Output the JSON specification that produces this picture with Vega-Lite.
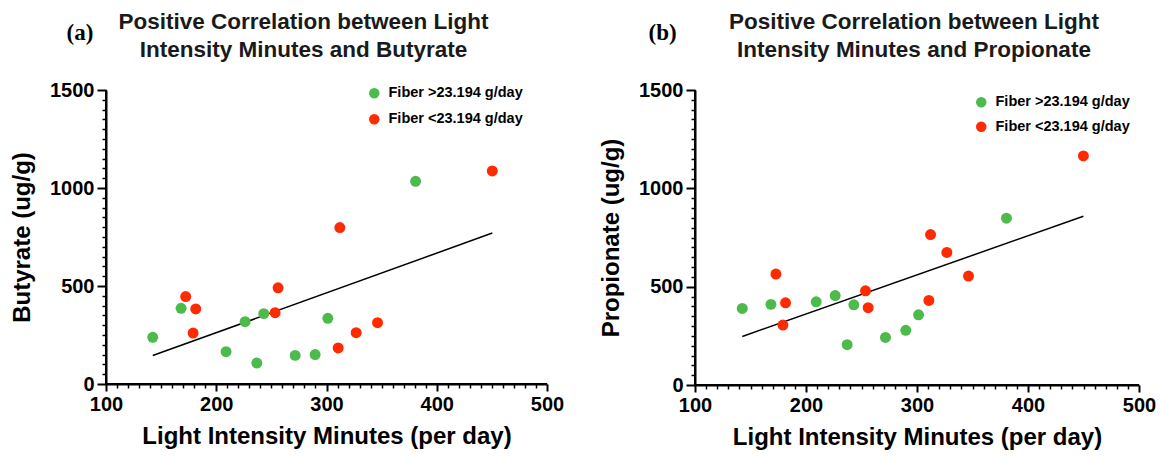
{
  "$schema": "https://vega.github.io/schema/vega-lite/v6.json",
  "padding": {"left": 10, "top": 10, "right": 5, "bottom": 5},
  "background": "white",
  "config": {
    "view": {"stroke": null, "fill": null}
  },
  "datasets": {
    "butyrate": [
      {"minutes": 142.4, "value": 238, "fiber": "Fiber >23.194 g/day"},
      {"minutes": 168.1, "value": 386, "fiber": "Fiber >23.194 g/day"},
      {"minutes": 208.9, "value": 165, "fiber": "Fiber >23.194 g/day"},
      {"minutes": 226.2, "value": 318, "fiber": "Fiber >23.194 g/day"},
      {"minutes": 236.8, "value": 107, "fiber": "Fiber >23.194 g/day"},
      {"minutes": 243.1, "value": 359, "fiber": "Fiber >23.194 g/day"},
      {"minutes": 271.6, "value": 146, "fiber": "Fiber >23.194 g/day"},
      {"minutes": 289.7, "value": 150, "fiber": "Fiber >23.194 g/day"},
      {"minutes": 301.2, "value": 335, "fiber": "Fiber >23.194 g/day"},
      {"minutes": 380.8, "value": 1034, "fiber": "Fiber >23.194 g/day"},
      {"minutes": 172.3, "value": 446, "fiber": "Fiber <23.194 g/day"},
      {"minutes": 181.4, "value": 383, "fiber": "Fiber <23.194 g/day"},
      {"minutes": 179.0, "value": 260, "fiber": "Fiber <23.194 g/day"},
      {"minutes": 256.1, "value": 491, "fiber": "Fiber <23.194 g/day"},
      {"minutes": 253.4, "value": 364, "fiber": "Fiber <23.194 g/day"},
      {"minutes": 312.1, "value": 798, "fiber": "Fiber <23.194 g/day"},
      {"minutes": 310.6, "value": 184, "fiber": "Fiber <23.194 g/day"},
      {"minutes": 326.9, "value": 262, "fiber": "Fiber <23.194 g/day"},
      {"minutes": 346.3, "value": 313, "fiber": "Fiber <23.194 g/day"},
      {"minutes": 450.4, "value": 1087, "fiber": "Fiber <23.194 g/day"}
    ],
    "butyrate_fit": [
      {"x_start": 142.4, "y_start": 145, "x_end": 450.4, "y_end": 770}
    ],
    "propionate": [
      {"minutes": 142.6, "value": 389, "fiber": "Fiber >23.194 g/day"},
      {"minutes": 168.4, "value": 410, "fiber": "Fiber >23.194 g/day"},
      {"minutes": 209.2, "value": 423, "fiber": "Fiber >23.194 g/day"},
      {"minutes": 226.3, "value": 455, "fiber": "Fiber >23.194 g/day"},
      {"minutes": 237.1, "value": 205, "fiber": "Fiber >23.194 g/day"},
      {"minutes": 243.1, "value": 408, "fiber": "Fiber >23.194 g/day"},
      {"minutes": 271.6, "value": 242, "fiber": "Fiber >23.194 g/day"},
      {"minutes": 289.9, "value": 278, "fiber": "Fiber >23.194 g/day"},
      {"minutes": 301.4, "value": 357, "fiber": "Fiber >23.194 g/day"},
      {"minutes": 380.6, "value": 848, "fiber": "Fiber >23.194 g/day"},
      {"minutes": 172.9, "value": 564, "fiber": "Fiber <23.194 g/day"},
      {"minutes": 181.6, "value": 418, "fiber": "Fiber <23.194 g/day"},
      {"minutes": 179.2, "value": 305, "fiber": "Fiber <23.194 g/day"},
      {"minutes": 253.6, "value": 479, "fiber": "Fiber <23.194 g/day"},
      {"minutes": 256.0, "value": 393, "fiber": "Fiber <23.194 g/day"},
      {"minutes": 312.2, "value": 765, "fiber": "Fiber <23.194 g/day"},
      {"minutes": 310.7, "value": 430, "fiber": "Fiber <23.194 g/day"},
      {"minutes": 326.9, "value": 674, "fiber": "Fiber <23.194 g/day"},
      {"minutes": 346.4, "value": 554, "fiber": "Fiber <23.194 g/day"},
      {"minutes": 449.9, "value": 1165, "fiber": "Fiber <23.194 g/day"}
    ],
    "propionate_fit": [
      {"x_start": 142.6, "y_start": 247, "x_end": 449.9, "y_end": 858}
    ]
  },
  "resolve": {"scale": {"color": "independent"}, "legend": {"color": "independent"}},
  "spacing": 35,
  "hconcat": [
    {
      "title": {"text": "(a)", "font": "Liberation Serif", "fontSize": 23, "fontWeight": "bold", "color": "black", "anchor": "start", "frame": "bounds", "dx": 56, "dy": 38},
      "resolve": {"legend": {"color": "independent"}},
      "vconcat": [
        {
          "width": 441,
          "height": 294,
          "title": {"text": ["Positive Correlation between Light", "Intensity Minutes and Butyrate"], "font": "Liberation Sans", "fontSize": 22.5, "fontWeight": "bold", "lineHeight": 28, "color": "#1a1a1a", "anchor": "middle", "frame": "group", "dx": -23, "offset": 19},
          "resolve": {"axis": {"x": "independent", "y": "independent"}},
          "layer": [
            {
              "data": {"name": "butyrate_fit"},
              "mark": {"type": "rule", "color": "black", "strokeWidth": 1.5},
              "encoding": {
                "x": {"field": "x_start", "type": "quantitative", "scale": {"domain": [100, 500], "nice": false, "zero": false},
                  "axis": {"orient": "bottom", "values": [110,120,130,140,150,160,170,180,190,210,220,230,240,250,260,270,280,290,310,320,330,340,350,360,370,380,390,410,420,430,440,450,460,470,480,490], "labels": false, "grid": false, "domain": false, "ticks": true, "tickColor": "black", "tickOpacity": 1, "tickSize": 4, "tickWidth": 1.5, "title": null}},
                "x2": {"field": "x_end"},
                "y": {"field": "y_start", "type": "quantitative", "scale": {"domain": [0, 1500], "nice": false, "zero": true},
                  "axis": {"orient": "left", "values": [50,100,150,200,250,300,350,400,450,550,600,650,700,750,800,850,900,950,1050,1100,1150,1200,1250,1300,1350,1400,1450], "labels": false, "grid": false, "domain": false, "ticks": true, "tickColor": "black", "tickOpacity": 1, "tickSize": 4, "tickWidth": 1.5, "title": null}},
                "y2": {"field": "y_end"}
              }
            },
            {
              "data": {"values": [{}]},
              "mark": {"type": "rule", "color": "black", "strokeWidth": 2},
              "encoding": {
                "x": {"datum": 100, "type": "quantitative", "axis": null},
                "y": {"datum": 0, "type": "quantitative", "axis": null},
                "y2": {"datum": 1500}
              }
            },
            {
              "data": {"values": [{}]},
              "mark": {"type": "rule", "color": "black", "strokeWidth": 2},
              "encoding": {
                "x": {"datum": 100, "type": "quantitative", "axis": null},
                "x2": {"datum": 500},
                "y": {"datum": 0, "type": "quantitative", "axis": null}
              }
            },
            {
              "data": {"name": "butyrate"},
              "mark": {"type": "circle", "size": 120, "opacity": 1},
              "encoding": {
                "x": {"field": "minutes", "type": "quantitative", "scale": {"domain": [100, 500], "nice": false, "zero": false},
                  "axis": {"orient": "bottom", "values": [100, 200, 300, 400, 500], "format": "d", "grid": false, "domain": true, "domainColor": "black", "domainWidth": 2, "domainOpacity": 1, "ticks": true, "tickColor": "black", "tickOpacity": 1, "tickSize": 7, "tickWidth": 2, "labelFlush": false, "labelOverlap": false, "labelFont": "Liberation Sans", "labelFontWeight": "bold", "labelFontSize": 20, "labelColor": "black", "labelPadding": 3, "title": "Light Intensity Minutes (per day)", "titleFont": "Liberation Sans", "titleFontWeight": "bold", "titleFontSize": 24, "titleColor": "black", "titlePadding": 10}},
                "y": {"field": "value", "type": "quantitative", "scale": {"domain": [0, 1500], "nice": false, "zero": true},
                  "axis": {"orient": "left", "values": [0, 500, 1000, 1500], "format": "d", "grid": false, "domain": true, "domainColor": "black", "domainWidth": 2, "domainOpacity": 1, "ticks": true, "tickColor": "black", "tickOpacity": 1, "tickSize": 9, "tickWidth": 2, "labelFlush": false, "labelOverlap": false, "labelFont": "Liberation Sans", "labelFontWeight": "bold", "labelFontSize": 20, "labelColor": "black", "labelPadding": 3, "title": "Butyrate (ug/g)", "titleFont": "Liberation Sans", "titleFontWeight": "bold", "titleFontSize": 24, "titleColor": "black", "titlePadding": 15}},
                "color": {"field": "fiber", "type": "nominal",
                  "scale": {"domain": ["Fiber >23.194 g/day", "Fiber <23.194 g/day"], "range": ["#4cbb4c", "#ff2a00"]},
                  "legend": {"orient": "none", "legendX": 261, "legendY": -4, "title": null, "labelFont": "Liberation Sans", "labelFontSize": 14.5, "labelFontWeight": "bold", "labelColor": "black", "symbolType": "circle", "symbolSize": 110, "symbolStrokeWidth": 0, "symbolOpacity": 1, "rowPadding": 11, "labelOffset": 7}}
              }
            }
          ]
        }
      ]
    },
    {
      "title": {"text": "(b)", "font": "Liberation Serif", "fontSize": 23, "fontWeight": "bold", "color": "black", "anchor": "start", "frame": "bounds", "dx": 49, "dy": 38},
      "resolve": {"legend": {"color": "independent"}},
      "vconcat": [
        {
          "width": 444,
          "height": 295,
          "title": {"text": ["Positive Correlation between Light", "Intensity Minutes and Propionate"], "font": "Liberation Sans", "fontSize": 22.5, "fontWeight": "bold", "lineHeight": 28, "color": "#1a1a1a", "anchor": "middle", "frame": "group", "dx": -3, "offset": 19},
          "resolve": {"axis": {"x": "independent", "y": "independent"}},
          "layer": [
            {
              "data": {"name": "propionate_fit"},
              "mark": {"type": "rule", "color": "black", "strokeWidth": 1.5},
              "encoding": {
                "x": {"field": "x_start", "type": "quantitative", "scale": {"domain": [100, 500], "nice": false, "zero": false},
                  "axis": {"orient": "bottom", "values": [110,120,130,140,150,160,170,180,190,210,220,230,240,250,260,270,280,290,310,320,330,340,350,360,370,380,390,410,420,430,440,450,460,470,480,490], "labels": false, "grid": false, "domain": false, "ticks": true, "tickColor": "black", "tickOpacity": 1, "tickSize": 4, "tickWidth": 1.5, "title": null}},
                "x2": {"field": "x_end"},
                "y": {"field": "y_start", "type": "quantitative", "scale": {"domain": [0, 1500], "nice": false, "zero": true},
                  "axis": {"orient": "left", "values": [50,100,150,200,250,300,350,400,450,550,600,650,700,750,800,850,900,950,1050,1100,1150,1200,1250,1300,1350,1400,1450], "labels": false, "grid": false, "domain": false, "ticks": true, "tickColor": "black", "tickOpacity": 1, "tickSize": 4, "tickWidth": 1.5, "title": null}},
                "y2": {"field": "y_end"}
              }
            },
            {
              "data": {"values": [{}]},
              "mark": {"type": "rule", "color": "black", "strokeWidth": 2},
              "encoding": {
                "x": {"datum": 100, "type": "quantitative", "axis": null},
                "y": {"datum": 0, "type": "quantitative", "axis": null},
                "y2": {"datum": 1500}
              }
            },
            {
              "data": {"values": [{}]},
              "mark": {"type": "rule", "color": "black", "strokeWidth": 2},
              "encoding": {
                "x": {"datum": 100, "type": "quantitative", "axis": null},
                "x2": {"datum": 500},
                "y": {"datum": 0, "type": "quantitative", "axis": null}
              }
            },
            {
              "data": {"name": "propionate"},
              "mark": {"type": "circle", "size": 120, "opacity": 1},
              "encoding": {
                "x": {"field": "minutes", "type": "quantitative", "scale": {"domain": [100, 500], "nice": false, "zero": false},
                  "axis": {"orient": "bottom", "values": [100, 200, 300, 400, 500], "format": "d", "grid": false, "domain": true, "domainColor": "black", "domainWidth": 2, "domainOpacity": 1, "ticks": true, "tickColor": "black", "tickOpacity": 1, "tickSize": 7, "tickWidth": 2, "labelFlush": false, "labelOverlap": false, "labelFont": "Liberation Sans", "labelFontWeight": "bold", "labelFontSize": 20, "labelColor": "black", "labelPadding": 3, "title": "Light Intensity Minutes (per day)", "titleFont": "Liberation Sans", "titleFontWeight": "bold", "titleFontSize": 24, "titleColor": "black", "titlePadding": 10}},
                "y": {"field": "value", "type": "quantitative", "scale": {"domain": [0, 1500], "nice": false, "zero": true},
                  "axis": {"orient": "left", "values": [0, 500, 1000, 1500], "format": "d", "grid": false, "domain": true, "domainColor": "black", "domainWidth": 2, "domainOpacity": 1, "ticks": true, "tickColor": "black", "tickOpacity": 1, "tickSize": 9, "tickWidth": 2, "labelFlush": false, "labelOverlap": false, "labelFont": "Liberation Sans", "labelFontWeight": "bold", "labelFontSize": 20, "labelColor": "black", "labelPadding": 3, "title": "Propionate (ug/g)", "titleFont": "Liberation Sans", "titleFontWeight": "bold", "titleFontSize": 24, "titleColor": "black", "titlePadding": 15}},
                "color": {"field": "fiber", "type": "nominal",
                  "scale": {"domain": ["Fiber >23.194 g/day", "Fiber <23.194 g/day"], "range": ["#4cbb4c", "#ff2a00"]},
                  "legend": {"orient": "none", "legendX": 279, "legendY": 5, "title": null, "labelFont": "Liberation Sans", "labelFontSize": 14.5, "labelFontWeight": "bold", "labelColor": "black", "symbolType": "circle", "symbolSize": 110, "symbolStrokeWidth": 0, "symbolOpacity": 1, "rowPadding": 9.5, "labelOffset": 7}}
              }
            }
          ]
        }
      ]
    }
  ]
}
